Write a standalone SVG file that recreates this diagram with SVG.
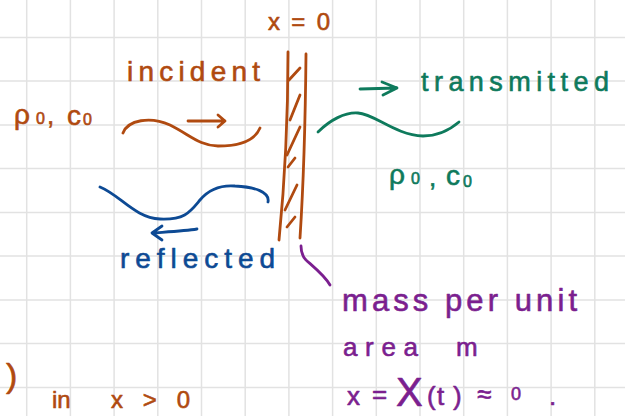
<svg xmlns="http://www.w3.org/2000/svg" width="625" height="416" viewBox="0 0 625 416">
<defs>
<style>
.grid{fill:none;stroke:#e2e2e2;stroke-width:1.5}
.s{fill:none;stroke-width:2.8;stroke-linecap:round;stroke-linejoin:round}
.o{stroke:#b04a10}.g{stroke:#0e7a5c}.b{stroke:#0d4a94}.p{stroke:#7b1f8f}
text{font-family:"Liberation Sans","DejaVu Sans",sans-serif;stroke-width:0.6;stroke-linejoin:round}
.to{fill:#b04a10;stroke:#b04a10}.tg{fill:#0e7a5c;stroke:#0e7a5c}.tb{fill:#0d4a94;stroke:#0d4a94}.tp{fill:#7b1f8f;stroke:#7b1f8f}
</style>
</defs>
<rect width="625" height="416" fill="#ffffff"/>
<path class="grid" d="M26.7,0V416M70.4,0V416M114.1,0V416M157.8,0V416M201.5,0V416M245.2,0V416M288.9,0V416M332.6,0V416M376.3,0V416M420,0V416M463.7,0V416M507.4,0V416M551.1,0V416M594.8,0V416M0,37.4H625M0,81.1H625M0,124.9H625M0,168.6H625M0,212.4H625M0,256.1H625M0,299.9H625M0,343.6H625M0,387.4H625"/>

<g id="wall">
<path class="s o" d="M288,52 Q288,150 279,240"/>
<path class="s o" d="M306,54 Q305,160 300,238"/>
<path class="s o" d="M289,80 L300,68 M290,120 L300,95 M287,155 L300,127 M288,167 L295,158 M285,210 L297,185 M287,227 L295,217"/>
</g>
<g id="label-x0"><text class="to" x="268" y="30" font-size="24" textLength="62" lengthAdjust="spacing">x = 0</text></g>

<g id="incident">
<path class="s o" d="M123,133 C128,120 150,116 170,125 C190,135 200,146 218,146 C240,146 255,140 260,128"/>
<text class="to" x="127" y="81" font-size="28" textLength="133" lengthAdjust="spacing">incident</text>
</g>
<g id="medium-left">
<text class="to" font-size="28"><tspan x="14" y="124">ρ</tspan><tspan x="36" y="124" font-size="16">0</tspan><tspan x="47" y="124" font-size="26">,</tspan><tspan x="67" y="125">c</tspan><tspan x="83" y="125" font-size="16">0</tspan></text>
</g>

<g id="transmitted">
<path class="s g" d="M318,132 C330,120 345,112 358,113 C375,114 395,135 423,136 C440,136 452,128 459,122"/>
<text class="tg" x="421" y="91" font-size="27" textLength="188" lengthAdjust="spacing">transmitted</text>
</g>
<g id="medium-right">
<text class="tg" font-size="28"><tspan x="389" y="184">ρ</tspan><tspan x="411" y="184" font-size="16">0</tspan><tspan x="429" y="186" font-size="26">,</tspan><tspan x="446" y="185">c</tspan><tspan x="463" y="187" font-size="16">0</tspan></text>
</g>

<g id="reflected">
<path class="s b" d="M100,187 C120,195 135,218 160,219 C185,220 190,212 200,200 C210,188 222,185 235,186 C255,187 270,192 268,202"/>
<text class="tb" x="120" y="268" font-size="28" textLength="155" lengthAdjust="spacing">reflected</text>
</g>

<g id="mass-note">
<text class="tp" x="342" y="311" font-size="31" textLength="235" lengthAdjust="spacing">mass per unit</text>
<text class="tp" x="343" y="356" font-size="26" textLength="75" lengthAdjust="spacing">area</text>
<text class="tp" x="456" y="356" font-size="26">m</text>
<text class="tp" font-size="26"><tspan x="347" y="405">x</tspan><tspan x="372" y="403">=</tspan><tspan x="396" y="406" font-size="40">X</tspan><tspan x="427" y="405">(</tspan><tspan x="437" y="405">t</tspan><tspan x="453" y="405">)</tspan><tspan x="477" y="403">≈</tspan><tspan x="511" y="400" font-size="18">0</tspan><tspan x="549" y="405">.</tspan></text>
</g>

<g id="bottom-left">
<text class="to" x="6" y="387" font-size="34">)</text>
<text class="to" x="52" y="408" font-size="24">in</text>
<text class="to" x="111" y="408" font-size="24" textLength="79" lengthAdjust="spacing">x&gt;0</text>
</g>

<g id="connectors">
<path class="s o" d="M188,121 H225 M218,115 L225,121 L218,127"/>
<path class="s g" d="M360,89 L397,88 M382,82 L397,88 L383,95"/>
<path class="s b" d="M197,229 C185,231 165,232 152,233 M162,226 L152,233 L162,240"/>
<path class="s p" d="M301,246 C301,252 302,256 306,260 C315,268 325,276 330,285"/>
</g>
</svg>
